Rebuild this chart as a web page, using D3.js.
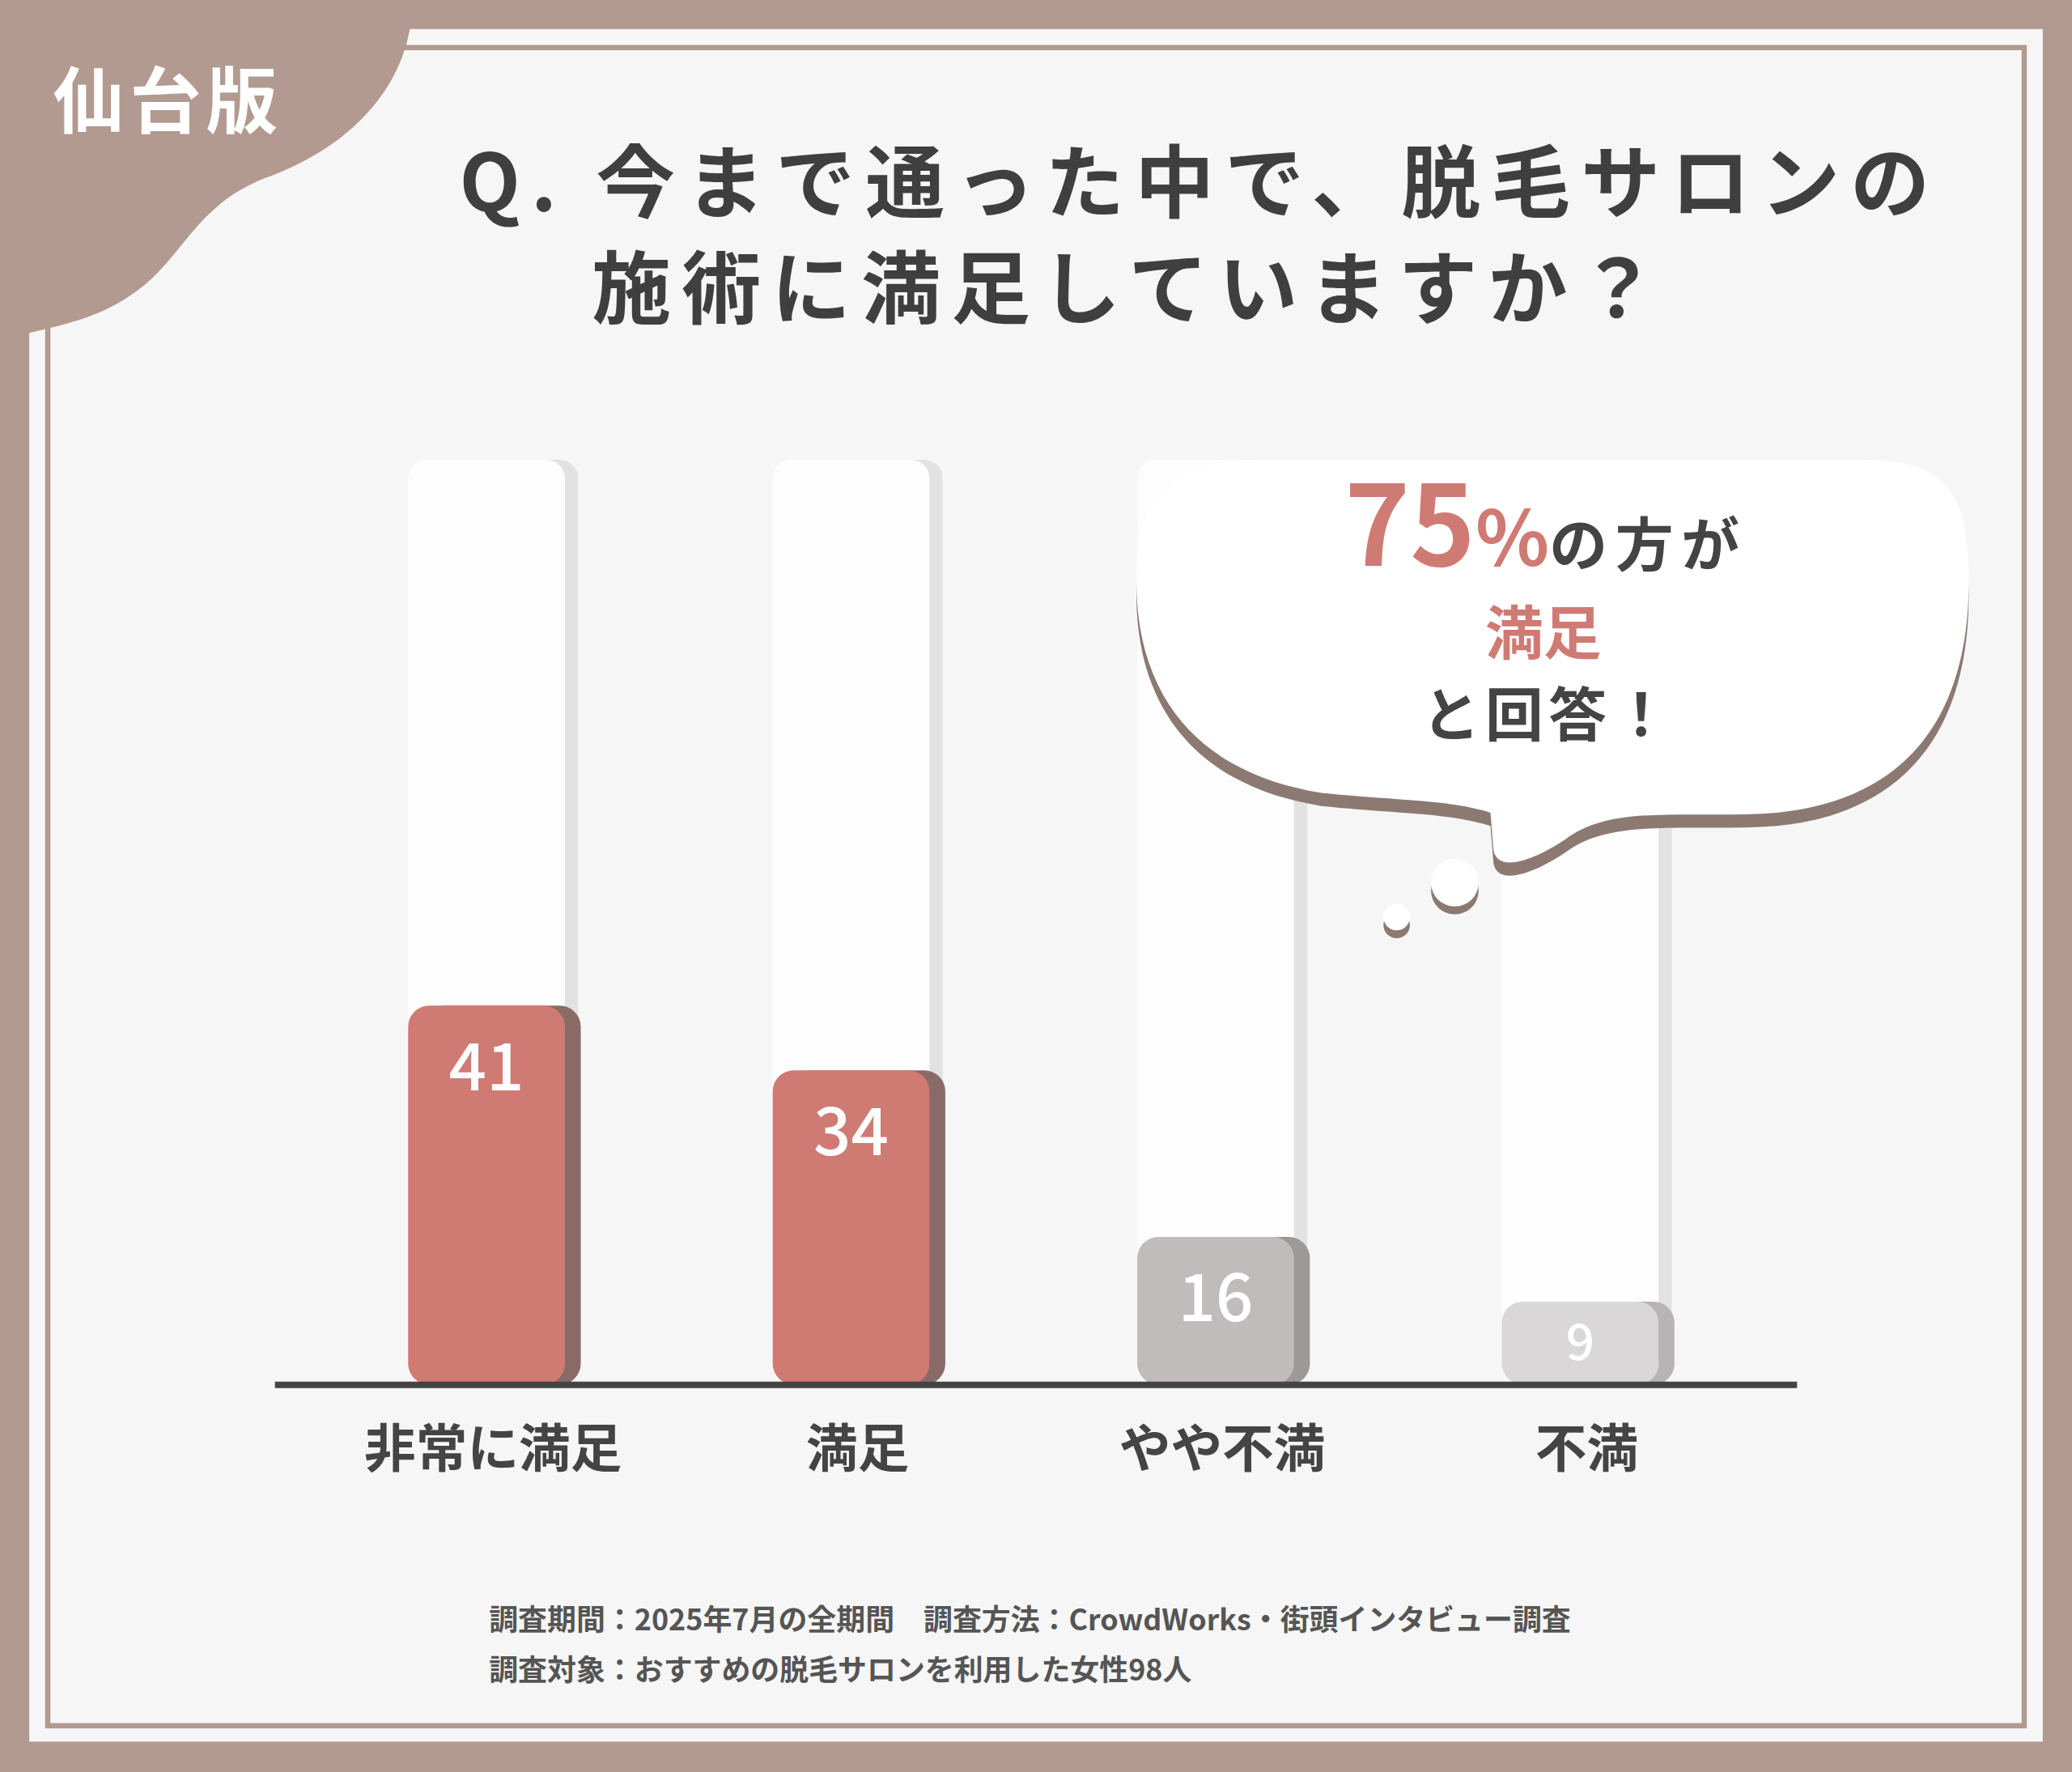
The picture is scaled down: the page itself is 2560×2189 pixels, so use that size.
<!DOCTYPE html>
<html><head><meta charset="utf-8">
<script src="https://cdn.jsdelivr.net/npm/d3@7"></script>
<style>body{margin:0;background:#b29a90}svg{display:block}</style>
</head><body>
<script>
var categories = ['非常に満足', '満足', 'やや不満', '不満'];
var values = [41, 34, 16, 9];
var barColors = ['#d07a74', '#d07a74', '#c0bcbb', '#d9d7d7'];
var shadowColors = ['#8a6a66', '#8a6a66', '#9e9897', '#b8b4b4'];
var titleLines = ['Q. 今まで通った中で、脱毛サロンの', '施術に満足していますか？'];
var notes = ['調査期間：2025年7月の全期間　調査方法：CrowdWorks・街頭インタビュー調査', '調査対象：おすすめの脱毛サロンを利用した女性98人'];

var font = '"Noto Sans CJK JP", "Noto Sans", sans-serif';
var svg = d3.select('body').append('svg')
    .attr('width', 2560).attr('height', 2189)
    .attr('viewBox', '0 0 1568 1341');

svg.append('rect').attr('width', 1568).attr('height', 1341).attr('fill', '#b29a90');
svg.append('rect').attr('x', 22).attr('y', 22).attr('width', 1524).attr('height', 1296).attr('fill', '#f7f6f6');
svg.append('rect').attr('x', 36).attr('y', 36).attr('width', 1496).attr('height', 1270)
    .attr('fill', 'none').attr('stroke', '#b29a90').attr('stroke-width', 4);

// corner tag
svg.append('path')
    .attr('d', 'M0 0 L312 0 C312 60 270 110 200 135 C150 155 140 190 110 215 C80 240 50 245 22 252 L22 252 L0 260 Z')
    .attr('fill', '#b29a90');
svg.append('text').attr('x', 40).attr('y', 96).text('仙台版')
    .attr('font-family', font).attr('font-weight', 700).attr('font-size', 54)
    .attr('fill', '#fff').attr('letter-spacing', 4);

svg.selectAll('text.title').data(titleLines).enter().append('text')
    .attr('class', 'title')
    .attr('x', function(d, i) { return i ? 855 : 908; })
    .attr('y', function(d, i) { return 160 + i * 80; })
    .attr('text-anchor', 'middle')
    .attr('font-family', font).attr('font-weight', 700).attr('font-size', 60)
    .attr('letter-spacing', 8).attr('fill', '#3f3f3f')
    .text(function(d) { return d; });

var x = d3.scaleBand().domain(categories).range([226, 1338]).paddingInner(0.57).paddingOuter(0.3);
var y = d3.scaleLinear().domain([0, 100]).range([1048, 348]);
var bw = x.bandwidth();

var g = svg.append('g');
// background pillars
g.selectAll('.pillar-sh').data(categories).enter().append('rect')
    .attr('x', function(d) { return x(d) + 10; }).attr('y', y(100))
    .attr('width', bw).attr('height', y(0) - y(100)).attr('rx', 14)
    .attr('fill', '#e2e2e2');
g.selectAll('.pillar').data(categories).enter().append('rect')
    .attr('x', function(d) { return x(d); }).attr('y', y(100))
    .attr('width', bw).attr('height', y(0) - y(100)).attr('rx', 14)
    .attr('fill', '#fdfdfd');

// bars
g.selectAll('.bar-sh').data(values).enter().append('rect')
    .attr('x', function(d, i) { return x(categories[i]) + 12; })
    .attr('y', function(d) { return y(d); })
    .attr('width', bw).attr('height', function(d) { return y(0) - y(d); })
    .attr('rx', 16).attr('fill', function(d, i) { return shadowColors[i]; });
g.selectAll('.bar').data(values).enter().append('rect')
    .attr('x', function(d, i) { return x(categories[i]); })
    .attr('y', function(d) { return y(d); })
    .attr('width', bw).attr('height', function(d) { return y(0) - y(d); })
    .attr('rx', 16).attr('fill', function(d, i) { return barColors[i]; });
g.selectAll('.val').data(values).enter().append('text')
    .attr('x', function(d, i) { return x(categories[i]) + bw / 2; })
    .attr('y', function(d) { return y(d) + (d < 12 ? 44 : 64); })
    .attr('text-anchor', 'middle').attr('fill', '#fff')
    .attr('font-family', font).attr('font-weight', 500)
    .attr('font-size', function(d) { return d < 12 ? 38 : 50; })
    .text(function(d) { return d; });

svg.append('line').attr('x1', 208).attr('x2', 1360).attr('y1', 1048).attr('y2', 1048)
    .attr('stroke', '#444').attr('stroke-width', 5);
g.selectAll('.cat').data(categories).enter().append('text')
    .attr('x', function(d) { return x(d) + bw / 2 + 5; }).attr('y', 1110)
    .attr('text-anchor', 'middle').attr('fill', '#444')
    .attr('font-family', font).attr('font-weight', 700).attr('font-size', 39)
    .text(function(d) { return d; });

// speech bubble
var bubble = 'M860 440 C860 365 895 348 960 348 L1410 348 C1475 348 1490 375 1490 440 C1490 540 1445 605 1345 615 C1280 620 1220 608 1185 635 C1155 655 1130 660 1130 640 L1128 615 C1095 605 1060 606 1000 600 C905 585 860 525 860 440 Z';
svg.append('path').attr('d', bubble).attr('fill', '#8c7a72').attr('transform', 'translate(0,10)');
svg.append('path').attr('d', bubble).attr('fill', '#ffffff');
[[1101, 668, 18], [1057, 694, 10]].forEach(function(c) {
    svg.append('circle').attr('cx', c[0]).attr('cy', c[1] + 6).attr('r', c[2]).attr('fill', '#8c7a72');
    svg.append('circle').attr('cx', c[0]).attr('cy', c[1]).attr('r', c[2]).attr('fill', '#fff');
});
var t1 = svg.append('text').attr('x', 1170).attr('y', 428).attr('text-anchor', 'middle')
    .attr('font-family', font).attr('font-weight', 700);
t1.append('tspan').attr('fill', '#d07a74').attr('font-size', 84).text('75');
t1.append('tspan').attr('fill', '#d07a74').attr('font-size', 58).text('%');
t1.append('tspan').attr('fill', '#444').attr('font-size', 44).attr('letter-spacing', 6).text('の方が');
svg.append('text').attr('x', 1168).attr('y', 495).attr('text-anchor', 'middle')
    .attr('font-family', font).attr('font-weight', 700).attr('font-size', 44)
    .attr('fill', '#d07a74').text('満足');
svg.append('text').attr('x', 1172).attr('y', 557).attr('text-anchor', 'middle')
    .attr('font-family', font).attr('font-weight', 700).attr('font-size', 44)
    .attr('fill', '#444').attr('letter-spacing', 4).text('と回答！');

svg.selectAll('text.note').data(notes).enter().append('text')
    .attr('class', 'note').attr('x', 370)
    .attr('y', function(d, i) { return 1234 + i * 38; })
    .attr('font-family', font).attr('font-weight', 700).attr('font-size', 22)
    .attr('fill', '#555').text(function(d) { return d; });
</script>
</body></html>
